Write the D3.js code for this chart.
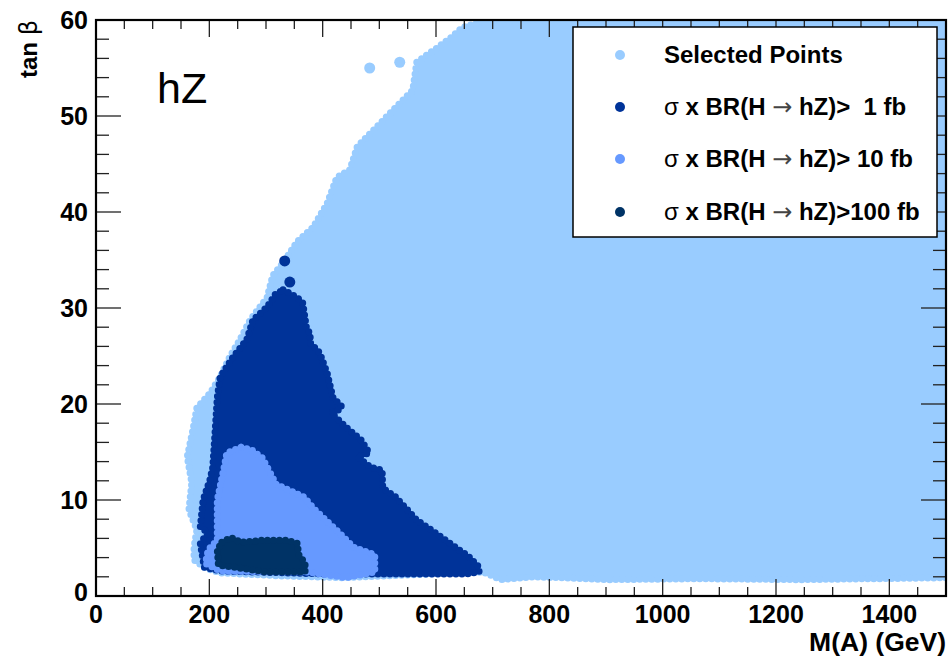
<!DOCTYPE html>
<html>
<head>
<meta charset="utf-8">
<script src="https://cdn.jsdelivr.net/npm/d3@7"></script>
<style>
  html, body { margin: 0; padding: 0; background: #fff; }
  svg { display: block; }
  text { font-family: "Liberation Sans", Arial, Helvetica, sans-serif; }
</style>
</head>
<body>
<svg id="chart" width="949" height="658"></svg>
<script>
// ---- data : boundary outlines [M(A) GeV, tan beta] ----
const selectedOutline = [
  [713,60],[678,59.8],[646,59.2],[625,58.1],[602,57.1],[581,56.25],[566,55.6],
  [559,52.7],[524,50.6],[496,48.9],[461,46.8],[448,44.4],[425,43.6],[408,40.9],
  [383,38.4],[355,36.9],[337,35.3],[325,34.3],[312,33.4],[302,31.1],[272,28.75],
  [254,26.7],[236,24.9],[219,22.8],[201,21.1],[178,19.6],[171,17.3],[161,14.5],
  [169,11.8],[164,9.0],[178,6.9],[173,5.1],[173,3.75],[194,2.9],[219,2.4],
  [325,2.1],[436,1.9],[591,2.3],[683,2.5],[715,1.7],[776,2.0],[900,1.7],
  [1066,1.8],[1242,1.7],[1500,1.9],[1500,60]
];
const selectedIsolated = [[536,55.6],[483,55.0]];

const oneFbOutline = [
  [330,31.9],[355,31.1],[365,30.5],[372,27.7],[378,27.4],[378,26.4],[395,25.3],
  [408,23.2],[418,20.7],[434,19.7],[429,19.4],[415,19.1],[441,17.6],[468,16.25],
  [482,14.9],[461,14.5],[485,13.4],[505,13.1],[506,11.25],[529,10.3],[566,7.9],
  [591,6.9],[634,5.1],[658,4.1],[676,3.0],[676,2.5],[653,2.3],[529,2.3],[404,2.3],
  [281,2.5],[219,2.6],[191,3.0],[184,5.5],[198,6.6],[184,7.2],[189,10.0],
  [201,12.1],[206,13.4],[210,17.0],[214,20.7],[219,22.8],[242,24.9],[266,26.7],
  [277,28.75],[302,30.1],[316,31.4]
];
const oneFbIsolated = [[333,34.9],[342,32.7]];

const tenFbOutline = [
  [256,15.5],[275,15.2],[293,14.4],[305,13.1],[318,11.6],[342,11.0],[367,10.3],
  [386,9.0],[411,7.6],[429,6.6],[454,5.1],[482,4.5],[492,4.3],[492,2.5],
  [441,1.9],[374,2.5],[219,2.6],[193,3.4],[198,4.8],[214,5.8],[214,10.0],
  [226,13.4],[231,14.9]
];

const hundredFbOutline = [
  [222,5.6],[238,6.1],[256,5.6],[293,5.8],[337,5.8],[355,5.5],[358,4.3],
  [369,3.4],[369,2.5],[300,2.5],[244,3.0],[216,3.2],[214,4.8]
];

const xTickValues = [0,200,400,600,800,1000,1200,1400];
const yTickValues = [0,10,20,30,40,50,60];
const legendLabels = ["Selected Points", "1 fb", "10 fb", "100 fb"];

// ---- layout ----
const svg = d3.select("#chart");
const L = 96, T = 20, W = 850, H = 576;
const x = d3.scaleLinear().domain([0,1500]).range([L, L+W]);
const y = d3.scaleLinear().domain([0,60]).range([T+H, T]);

const colSel = "#99ccff", col1 = "#003399", col10 = "#6699ff", col100 = "#003366";

svg.append("defs").append("clipPath").attr("id","plotclip")
  .append("rect").attr("x",L).attr("y",T).attr("width",W).attr("height",H);

const g = svg.append("g").attr("clip-path","url(#plotclip)");
const line = d3.line().x(d=>x(d[0])).y(d=>y(d[1])).curve(d3.curveLinearClosed);

function region(data, col, iso) {
  const d = line(data);
  g.append("path").attr("d", d)
    .attr("fill", col).attr("stroke", col).attr("stroke-width", 2)
    .attr("stroke-linejoin","round");
  // marker-like bumpy rim (scatter points along the outline)
  g.append("path").attr("d", d)
    .attr("fill", "none").attr("stroke", col).attr("stroke-width", 7)
    .attr("stroke-linecap","round").attr("stroke-dasharray","0 6");
  (iso||[]).forEach(p => g.append("circle").attr("cx",x(p[0])).attr("cy",y(p[1]))
    .attr("r",5.5).attr("fill",col));
}
region(selectedOutline, colSel, selectedIsolated);
region(oneFbOutline, col1, oneFbIsolated);
region(tenFbOutline, col10);
region(hundredFbOutline, col100);

// ---- axes (ROOT style, ticks inside on all four sides) ----
const ax = svg.append("g");
const xMinor = d3.range(0,1501,50), yMinor = d3.range(0,61,2);
xMinor.forEach(v => {
  const maj = v % 200 === 0, len = maj ? 17 : 9;
  ax.append("line").attr("x1",x(v)).attr("x2",x(v)).attr("y1",T+H).attr("y2",T+H-len)
    .attr("stroke","#222").attr("stroke-width",1.3);
  ax.append("line").attr("x1",x(v)).attr("x2",x(v)).attr("y1",T).attr("y2",T+len)
    .attr("stroke","#222").attr("stroke-width",1.3);
});
yMinor.forEach(v => {
  const maj = v % 10 === 0, len = maj ? 25 : 13;
  ax.append("line").attr("x1",L).attr("x2",L+len).attr("y1",y(v)).attr("y2",y(v))
    .attr("stroke","#222").attr("stroke-width",1.3);
  ax.append("line").attr("x1",L+W).attr("x2",L+W-len).attr("y1",y(v)).attr("y2",y(v))
    .attr("stroke","#222").attr("stroke-width",1.3);
});
ax.append("rect").attr("x",L).attr("y",T).attr("width",W).attr("height",H)
  .attr("fill","none").attr("stroke","#000").attr("stroke-width",2.2);

xTickValues.forEach(v => {
  ax.append("text").attr("x", x(v)).attr("y", 623).attr("text-anchor","middle")
    .attr("font-size",25).attr("font-weight","bold").text(v);
});
yTickValues.forEach(v => {
  ax.append("text").attr("x", 88).attr("y", y(v) + (v===0 ? 5 : 8.5)).attr("text-anchor","end")
    .attr("font-size",25).attr("font-weight","bold").text(v);
});

svg.append("text").attr("x",946).attr("y",651).attr("text-anchor","end")
  .attr("font-size",26.5).attr("font-weight","bold").text("M(A) (GeV)");
const yt = svg.append("text").attr("transform","translate(37,20) rotate(-90)")
  .attr("text-anchor","end").attr("font-size",24).attr("font-weight","bold");
yt.append("tspan").text("tan ");
yt.append("tspan").attr("font-weight","normal").attr("font-family","DejaVu Sans").text("β");

svg.append("text").attr("x",157).attr("y",103).attr("font-size",43).text("hZ");

// ---- legend ----
const lg = svg.append("g");
lg.append("rect").attr("x",573).attr("y",27).attr("width",364).attr("height",210)
  .attr("fill","#fff").attr("stroke","#000").attr("stroke-width",1.5);
const legCols = [colSel, col1, col10, col100];
const legY = [55,107,159,212];
legendLabels.forEach((lab,i) => {
  lg.append("circle").attr("cx",620).attr("cy",legY[i]).attr("r",5).attr("fill",legCols[i]);
  const t = lg.append("text").attr("x",664).attr("y",legY[i]+8)
    .attr("font-size",24).attr("font-weight","bold").style("white-space","pre");
  if (i === 0) { t.text(lab); return; }
  t.append("tspan").attr("font-weight","normal").text("σ");
  t.append("tspan").text(" x BR(H ");
  t.append("tspan").attr("font-weight","normal").attr("font-family","DejaVu Sans")
    .attr("fill","#444").text("→");
  const pad = lab === "1 fb" ? "  " : (lab === "10 fb" ? " " : "");
  t.append("tspan").text(" hZ)>" + pad + lab);
});
</script>
</body>
</html>
